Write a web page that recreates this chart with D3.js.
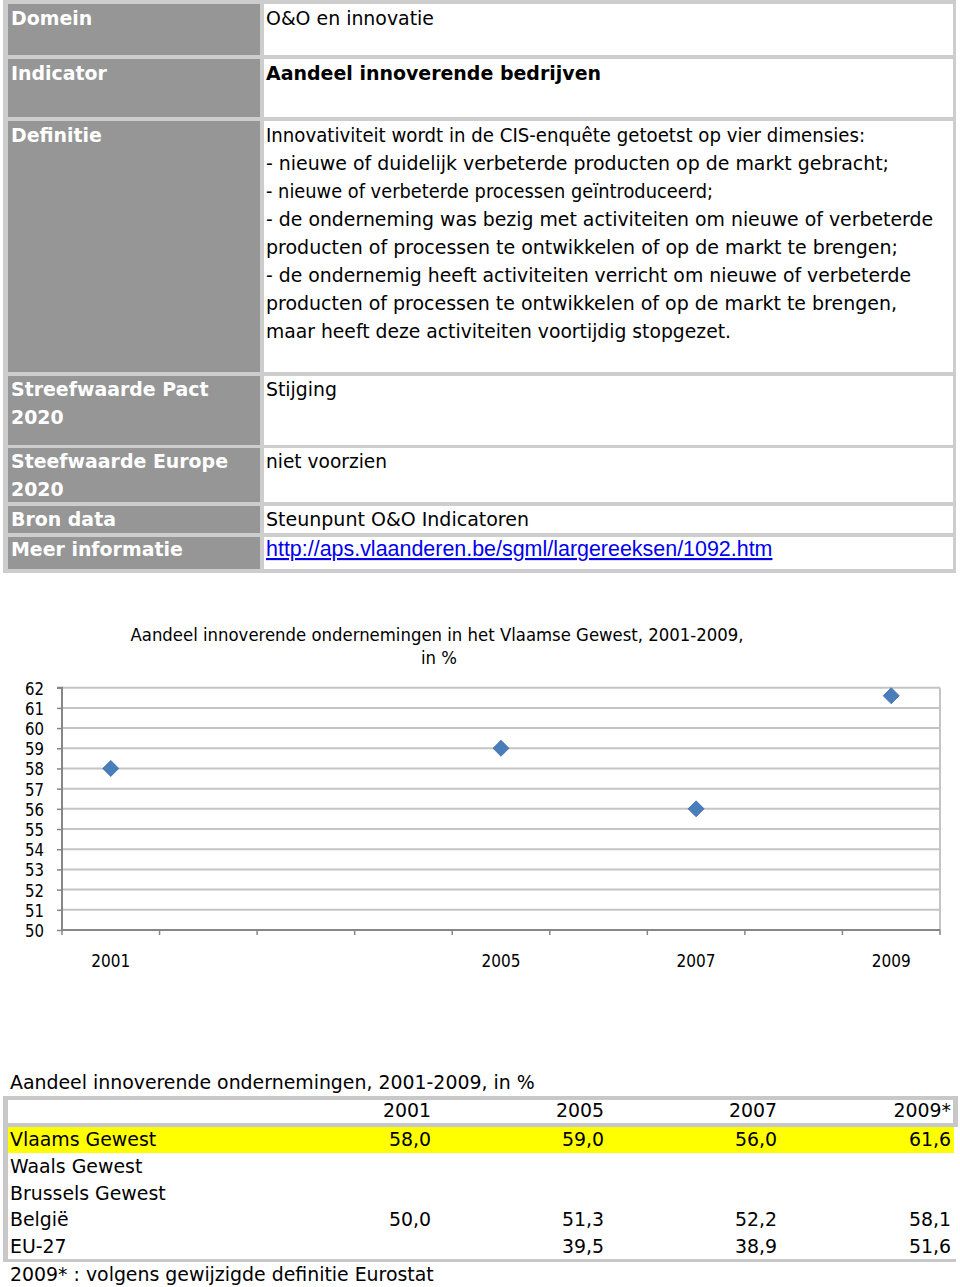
<!DOCTYPE html>
<html><head><meta charset="utf-8">
<script src="https://cdn.jsdelivr.net/npm/d3@7"></script>
<style>body{margin:0;background:#fff}</style>
</head><body><svg id="c" width="960" height="1287" xmlns="http://www.w3.org/2000/svg"></svg>
<script>
// ---------- DATA ----------
const infoLabels = [["Domein"], ["Indicator"], ["Definitie"], ["Streefwaarde Pact", "2020"], ["Steefwaarde Europe", "2020"], ["Bron data"], ["Meer informatie"]];
const infoValues = [
  ["O&O en innovatie"],
  ["Aandeel innoverende bedrijven"],
  ["Innovativiteit wordt in de CIS-enquête getoetst op vier dimensies:",
   "- nieuwe of duidelijk verbeterde producten op de markt gebracht;",
   "- nieuwe of verbeterde processen geïntroduceerd;",
   "- de onderneming was bezig met activiteiten om nieuwe of verbeterde",
   "producten of processen te ontwikkelen of op de markt te brengen;",
   "- de ondernemig heeft activiteiten verricht om nieuwe of verbeterde",
   "producten of processen te ontwikkelen of op de markt te brengen,",
   "maar heeft deze activiteiten voortijdig stopgezet."],
  ["Stijging"],
  ["niet voorzien"],
  ["Steunpunt O&O Indicatoren"],
  ["http://aps.vlaanderen.be/sgml/largereeksen/1092.htm"]
];
const chartTitle = ["Aandeel innoverende ondernemingen in het Vlaamse Gewest, 2001-2009,", "in %"];
const categories = ["2001", "2002", "2003", "2004", "2005", "2006", "2007", "2008", "2009"];
const vlaamsSeries = [58.0, null, null, null, 59.0, null, 56.0, null, 61.6];
const xTickLabels = ["2001", "2005", "2007", "2009"];
const yTickValues = [50, 51, 52, 53, 54, 55, 56, 57, 58, 59, 60, 61, 62];
const tableTitle = "Aandeel innoverende ondernemingen, 2001-2009, in %";
const tableYears = ["2001", "2005", "2007", "2009*"];
const tableRegions = ["Vlaams Gewest", "Waals Gewest", "Brussels Gewest", "België", "EU-27"];
const vlaamsRow = [58.0, 59.0, 56.0, 61.6];
const waalsRow = [null, null, null, null];
const brusselsRow = [null, null, null, null];
const belgieRow = [50.0, 51.3, 52.2, 58.1];
const euRow = [null, 39.5, 38.9, 51.6];
const footnote = "2009* : volgens gewijzigde definitie Eurostat";

// ---------- HELPERS ----------
const FONT = "'DejaVu Sans',sans-serif";
const LINKFONT = "'Liberation Sans',Arial,sans-serif";
const svg = d3.select("#c");
function measure(text, size, family, weight) {
  const t = svg.append("text").attr("font-family", family).attr("font-weight", weight || "normal")
    .attr("font-size", size).text(text);
  const w = t.node().getComputedTextLength();
  t.remove();
  return w;
}
const ratioFor = (ref, target, size, family, weight) => target / measure(ref, size, family, weight);
function squeeze(sel, ratio) {
  sel.each(function () {
    const w = this.getComputedTextLength();
    if (w > 0) d3.select(this).attr("textLength", w * ratio).attr("lengthAdjust", "spacingAndGlyphs");
  });
}
function fitTo(sel, width) {
  sel.attr("textLength", width).attr("lengthAdjust", "spacingAndGlyphs");
}
const fmt = v => v == null ? "" : d3.format(".1f")(v).replace(".", ",");

// ---------- INFO TABLE ----------
const rowBoxes = [[4, 55], [59, 117], [121, 372], [376, 445], [448, 502], [506, 533], [537, 569]];
const leftX0 = 8, leftX1 = 260, rightX0 = 264, rightX1 = 953;
const valueLineEnds = [[434], [601], [865, 889, 713, 933, 898, 911, 897, 731], [337], [387], [529], [773]];
svg.append("rect").attr("x", 3).attr("y", 0).attr("width", 953).attr("height", 573).attr("fill", "#cdcdcd");
const infoG = svg.append("g");
const BOLD = 20, NORM = 19;
const boldR = ratioFor("Steefwaarde Europe", 217, BOLD, FONT, "bold");
const linkSize = 20 * 507 / measure(infoValues[6][0], 20, LINKFONT);
const firstBase = [25, 80, 142, 396, 468, 526, 556];
const TX = 266;
rowBoxes.forEach((b, i) => {
  infoG.append("rect").attr("x", leftX0).attr("y", b[0]).attr("width", leftX1 - leftX0).attr("height", b[1] - b[0]).attr("fill", "#969696");
  infoG.append("rect").attr("x", rightX0).attr("y", b[0]).attr("width", rightX1 - rightX0).attr("height", b[1] - b[0]).attr("fill", "#ffffff");
  infoLabels[i].forEach((s, k) => {
    infoG.append("text").attr("x", 11).attr("y", firstBase[i] + k * 28).attr("font-family", FONT)
      .attr("font-weight", "bold").attr("font-size", BOLD).attr("fill", "#ffffff").text(s)
      .call(squeeze, boldR);
  });
  const isLink = i === 6;
  infoValues[i].forEach((s, k) => {
    const t = infoG.append("text").attr("x", TX).attr("y", firstBase[i] + k * 28)
      .attr("font-family", isLink ? LINKFONT : FONT)
      .attr("font-weight", i === 1 ? "bold" : "normal")
      .attr("font-size", isLink ? linkSize : NORM)
      .attr("fill", isLink ? "#0000ee" : "#000000")
      .attr("text-decoration", isLink ? "underline" : null).text(s);
    if (!isLink) t.call(fitTo, valueLineEnds[i][k] - TX);
  });
});

// ---------- CHART ----------
const plot = { left: 62, right: 940, top: 687.7, bottom: 930 };
const x = d3.scaleBand().domain(categories).range([plot.left, plot.right]).padding(0);
const y = d3.scaleLinear().domain([50, 62]).range([plot.bottom, plot.top]);
const chart = svg.append("g");
const TS = 18.5;
const titleR = ratioFor(chartTitle[0], 613, TS, FONT);
chart.append("text").attr("x", 437).attr("y", 641).attr("text-anchor", "middle").attr("font-family", FONT)
  .attr("font-size", TS).text(chartTitle[0]).call(squeeze, titleR);
chart.append("text").attr("x", 439).attr("y", 664).attr("text-anchor", "middle").attr("font-family", FONT)
  .attr("font-size", TS).text(chartTitle[1]).call(squeeze, titleR);
// gridlines
chart.append("g").selectAll("line").data(yTickValues).join("line")
  .attr("x1", plot.left).attr("x2", plot.right).attr("y1", d => y(d)).attr("y2", d => y(d))
  .attr("stroke", "#c4c4c4").attr("stroke-width", 2);
chart.append("line").attr("x1", plot.right).attr("x2", plot.right).attr("y1", plot.top).attr("y2", plot.bottom)
  .attr("stroke", "#c4c4c4").attr("stroke-width", 2);
// y axis
const AS = 17.8;
const yR = ratioFor("62", 19, AS, FONT);
const yAxis = d3.axisLeft(y).tickValues(yTickValues).tickSize(5).tickPadding(13).tickFormat(d3.format("d"));
const yg = chart.append("g").attr("transform", `translate(${plot.left},0)`).call(yAxis);
yg.attr("font-family", null).attr("font-size", null);
yg.select(".domain").attr("stroke", "#868686").attr("stroke-width", 2).attr("d", `M-5,${plot.top}H0V${plot.bottom}`);
yg.selectAll(".tick line").attr("stroke", "#868686").attr("stroke-width", 1.5);
yg.selectAll(".tick text").attr("font-family", FONT).attr("font-size", AS).attr("fill", "#000").attr("dy", "0.36em")
  .call(squeeze, yR);
// x axis
const xBounds = categories.map(c => x(c)).concat([x.range()[1]]);
chart.append("line").attr("x1", plot.left).attr("x2", plot.right).attr("y1", plot.bottom).attr("y2", plot.bottom)
  .attr("stroke", "#868686").attr("stroke-width", 2);
chart.append("g").selectAll("line").data(xBounds).join("line")
  .attr("x1", d => d).attr("x2", d => d).attr("y1", plot.bottom).attr("y2", plot.bottom + 5)
  .attr("stroke", "#868686").attr("stroke-width", 1.5);
const xR = ratioFor("2001", 39, AS, FONT);
chart.append("g").selectAll("text").data(xTickLabels).join("text")
  .attr("x", d => x(d) + x.bandwidth() / 2).attr("y", 967).attr("text-anchor", "middle")
  .attr("font-family", FONT).attr("font-size", AS).text(d => d).call(squeeze, xR);
// points
const pts = categories.map((c, i) => ({ c, v: vlaamsSeries[i] })).filter(d => d.v != null);
chart.append("g").selectAll("path").data(pts).join("path")
  .attr("d", d3.symbol().type(d3.symbolSquare).size(128))
  .attr("transform", d => `translate(${x(d.c) + x.bandwidth() / 2},${y(d.v)}) rotate(45)`)
  .attr("fill", "#4a7ebb").attr("stroke", "#3f6fa8").attr("stroke-width", 0.8);

// ---------- DATA TABLE ----------
const tbl = svg.append("g");
const tSize = 20 * 525 / measure(tableTitle, 20, FONT);
tbl.append("text").attr("x", 10).attr("y", 1089).attr("font-family", FONT).attr("font-size", tSize).text(tableTitle);
tbl.append("rect").attr("x", 8).attr("y", 1127).attr("width", 946).attr("height", 26).attr("fill", "#ffff00");
const bc = "#c8c8c8";
tbl.append("rect").attr("x", 3).attr("y", 1096).attr("width", 955).attr("height", 4).attr("fill", bc);
tbl.append("rect").attr("x", 3).attr("y", 1123).attr("width", 955).attr("height", 4).attr("fill", bc);
tbl.append("rect").attr("x", 953).attr("y", 1096).attr("width", 5).attr("height", 31).attr("fill", bc);
tbl.append("rect").attr("x", 3).attr("y", 1096).attr("width", 5).attr("height", 166).attr("fill", bc);
tbl.append("rect").attr("x", 3).attr("y", 1259).attr("width", 953).attr("height", 3).attr("fill", bc);
const colRight = [431, 604, 777, 951];
tbl.append("g").selectAll("text").data(tableYears).join("text")
  .attr("x", (d, i) => colRight[i]).attr("y", 1117).attr("text-anchor", "end")
  .attr("font-family", FONT).attr("font-size", tSize).text(d => d);
const tableRows = [vlaamsRow, waalsRow, brusselsRow, belgieRow, euRow];
const rowBase = [1146, 1173, 1200, 1226, 1253];
tableRegions.forEach((r, i) => {
  tbl.append("text").attr("x", 10).attr("y", rowBase[i]).attr("font-family", FONT).attr("font-size", tSize).text(r);
  tbl.append("g").selectAll("text").data(tableRows[i]).join("text")
    .attr("x", (d, j) => colRight[j]).attr("y", rowBase[i]).attr("text-anchor", "end")
    .attr("font-family", FONT).attr("font-size", tSize).text(d => fmt(d));
});
tbl.append("text").attr("x", 10).attr("y", 1281).attr("font-family", FONT).attr("font-size", tSize).text(footnote);
</script></body></html>
